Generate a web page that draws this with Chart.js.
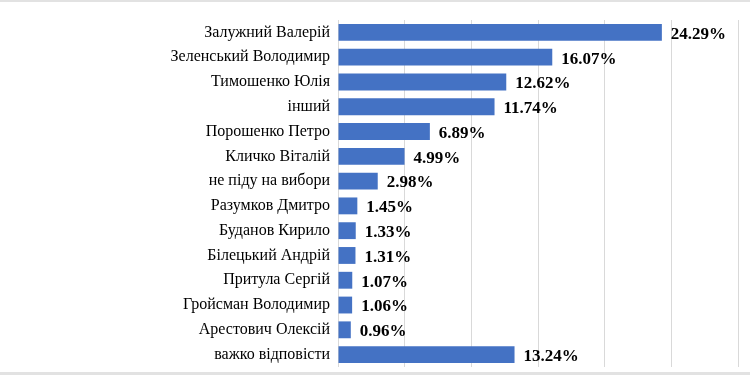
<!DOCTYPE html>
<html>
<head>
<meta charset="utf-8">
<script src="https://cdn.jsdelivr.net/npm/chart.js@4"></script>
<style>
  html, body { margin: 0; padding: 0; background: #fff; }
  #wrap { position: relative; width: 750px; height: 375px; }
  .edge { position: absolute; left: 0; width: 750px; background: #e2e2e2; }
  #top { top: 0; height: 2px; }
  #bottom { top: 372px; height: 3px; }
  canvas { position: absolute; left: 0; top: 0; }
</style>
</head>
<body>
<div id="wrap">
  <canvas id="chart" width="750" height="375"></canvas>
  <div class="edge" id="top"></div>
  <div class="edge" id="bottom"></div>
</div>
<script>
const names = [
  "Залужний Валерій",
  "Зеленський Володимир",
  "Тимошенко Юлія",
  "інший",
  "Порошенко Петро",
  "Кличко Віталій",
  "не піду на вибори",
  "Разумков Дмитро",
  "Буданов Кирило",
  "Білецький Андрій",
  "Притула Сергій",
  "Гройсман Володимир",
  "Арестович Олексій",
  "важко відповісти"
];
const shares = [24.29, 16.07, 12.62, 11.74, 6.89, 4.99, 2.98, 1.45, 1.33, 1.31, 1.07, 1.06, 0.96, 13.24];
const axisMax = 30;
const axisStep = 5;

// подписи значений справа от полос
const valueLabels = {
  id: "valueLabels",
  afterDatasetsDraw(chart) {
    const ctx = chart.ctx;
    const meta = chart.getDatasetMeta(0);
    ctx.save();
    ctx.font = "bold 17px 'Liberation Serif', 'Times New Roman', serif";
    ctx.fillStyle = "#000";
    ctx.textBaseline = "middle";
    ctx.textAlign = "left";
    meta.data.forEach((bar, i) => {
      ctx.fillText(shares[i].toFixed(2) + "%", bar.x + 9, bar.y + 2);
    });
    ctx.restore();
  }
};

new Chart(document.getElementById("chart"), {
  type: "bar",
  data: {
    labels: names,
    datasets: [{
      data: shares,
      backgroundColor: "#4472C4",
      borderWidth: 0,
      barPercentage: 0.68,
      categoryPercentage: 1
    }]
  },
  options: {
    indexAxis: "y",
    responsive: false,
    animation: false,
    layout: { padding: { top: 20, bottom: 8, left: 0, right: 12 } },
    plugins: { legend: { display: false }, tooltip: { enabled: false } },
    scales: {
      x: {
        min: 0,
        max: axisMax,
        ticks: { display: false, stepSize: axisStep },
        grid: { color: "#d9d9d9", lineWidth: 1, drawTicks: false },
        border: { display: false },
        afterFit(scale) { scale.height = 0; }
      },
      y: {
        grid: { display: false, drawTicks: false },
        border: { display: false },
        ticks: {
          color: "#000",
          padding: 8,
          font: { family: "'Liberation Serif', 'Times New Roman', serif", size: 16 }
        },
        afterFit(scale) {
          scale.width = 338;
          scale.paddingTop = 0;
          scale.paddingBottom = 0;
        }
      }
    }
  },
  plugins: [valueLabels]
});
</script>
</body>
</html>
